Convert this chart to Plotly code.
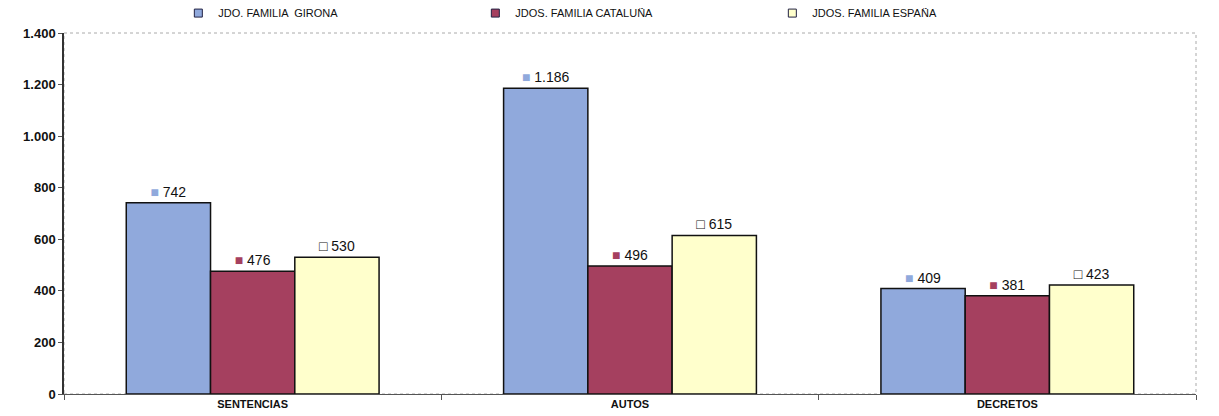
import plotly.graph_objects as go

# ---------------------------------------------------------------------------
# Data
# ---------------------------------------------------------------------------
categories = ["SENTENCIAS", "AUTOS", "DECRETOS"]
series_names = ["JDO. FAMILIA  GIRONA", "JDOS. FAMILIA CATALUÑA", "JDOS. FAMILIA ESPAÑA"]
girona = [742, 1186, 409]
cataluna = [476, 496, 381]
espana = [530, 615, 423]

series_values = [girona, cataluna, espana]
series_colors = ["#90a9dc", "#a5405f", "#ffffcc"]

fig = go.Figure()

for name, vals, col in zip(series_names, series_values, series_colors):
    marker_sq = f"<span style='color:{col}'>■</span>" if col != "#ffffcc" else "□"
    fig.add_trace(go.Bar(
        x=categories,
        y=vals,
        name=name,
        showlegend=False,
        marker=dict(color=col, line=dict(color="#111111", width=1.5)),
        text=[f"{marker_sq} {v:,}".replace(",", ".") for v in vals],
        textposition="outside",
        textfont=dict(family="Arial", size=14, color="#111111"),
        cliponaxis=False,
    ))

# legend entries: small outlined squares like the original
for name, col in zip(series_names, series_colors):
    fig.add_trace(go.Scatter(
        x=[None], y=[None],
        mode="markers",
        name=name,
        marker=dict(symbol="square", size=8, color=col,
                    line=dict(color="#222244", width=1)),
    ))

fig.update_layout(
    width=1211,
    height=408,
    barmode="group",
    bargap=0.33,
    bargroupgap=0,
    plot_bgcolor="white",
    paper_bgcolor="white",
    separators=",.",
    margin=dict(l=56, r=23, t=25, b=22, autoexpand=False),
    font=dict(family="Arial", color="#111111"),
    showlegend=True,
    legend=dict(
        orientation="h",
        x=0.101, xanchor="left",
        y=1.015, yanchor="bottom",
        entrywidth=252,
        font=dict(family="Arial", size=11),
        itemwidth=30,
        itemsizing="trace",
        tracegroupgap=0,
    ),
    xaxis=dict(
        showline=True,
        linecolor="#555555",
        linewidth=1,
        ticks="outside",
        tickson="boundaries",
        ticklen=5,
        tickcolor="#555555",
        tickfont=dict(family="Arial", size=11, color="#111111", weight="bold"),
        showgrid=False,
    ),
    yaxis=dict(
        range=[0, 1400],
        dtick=200,
        tickformat=",d",
        showline=True,
        linecolor="#333333",
        linewidth=1.5,
        ticks="outside",
        ticklen=4,
        tickcolor="#555555",
        tickfont=dict(family="Arial", size=13, color="#111111", weight="bold"),
        showgrid=False,
        zeroline=False,
    ),
    shapes=[dict(
        type="rect", xref="paper", yref="paper",
        x0=0, x1=1, y0=0, y1=1,
        line=dict(color="#aaaaaa", width=1, dash="dot"),
        layer="below",
    )],
)

fig.write_html("out.html")
